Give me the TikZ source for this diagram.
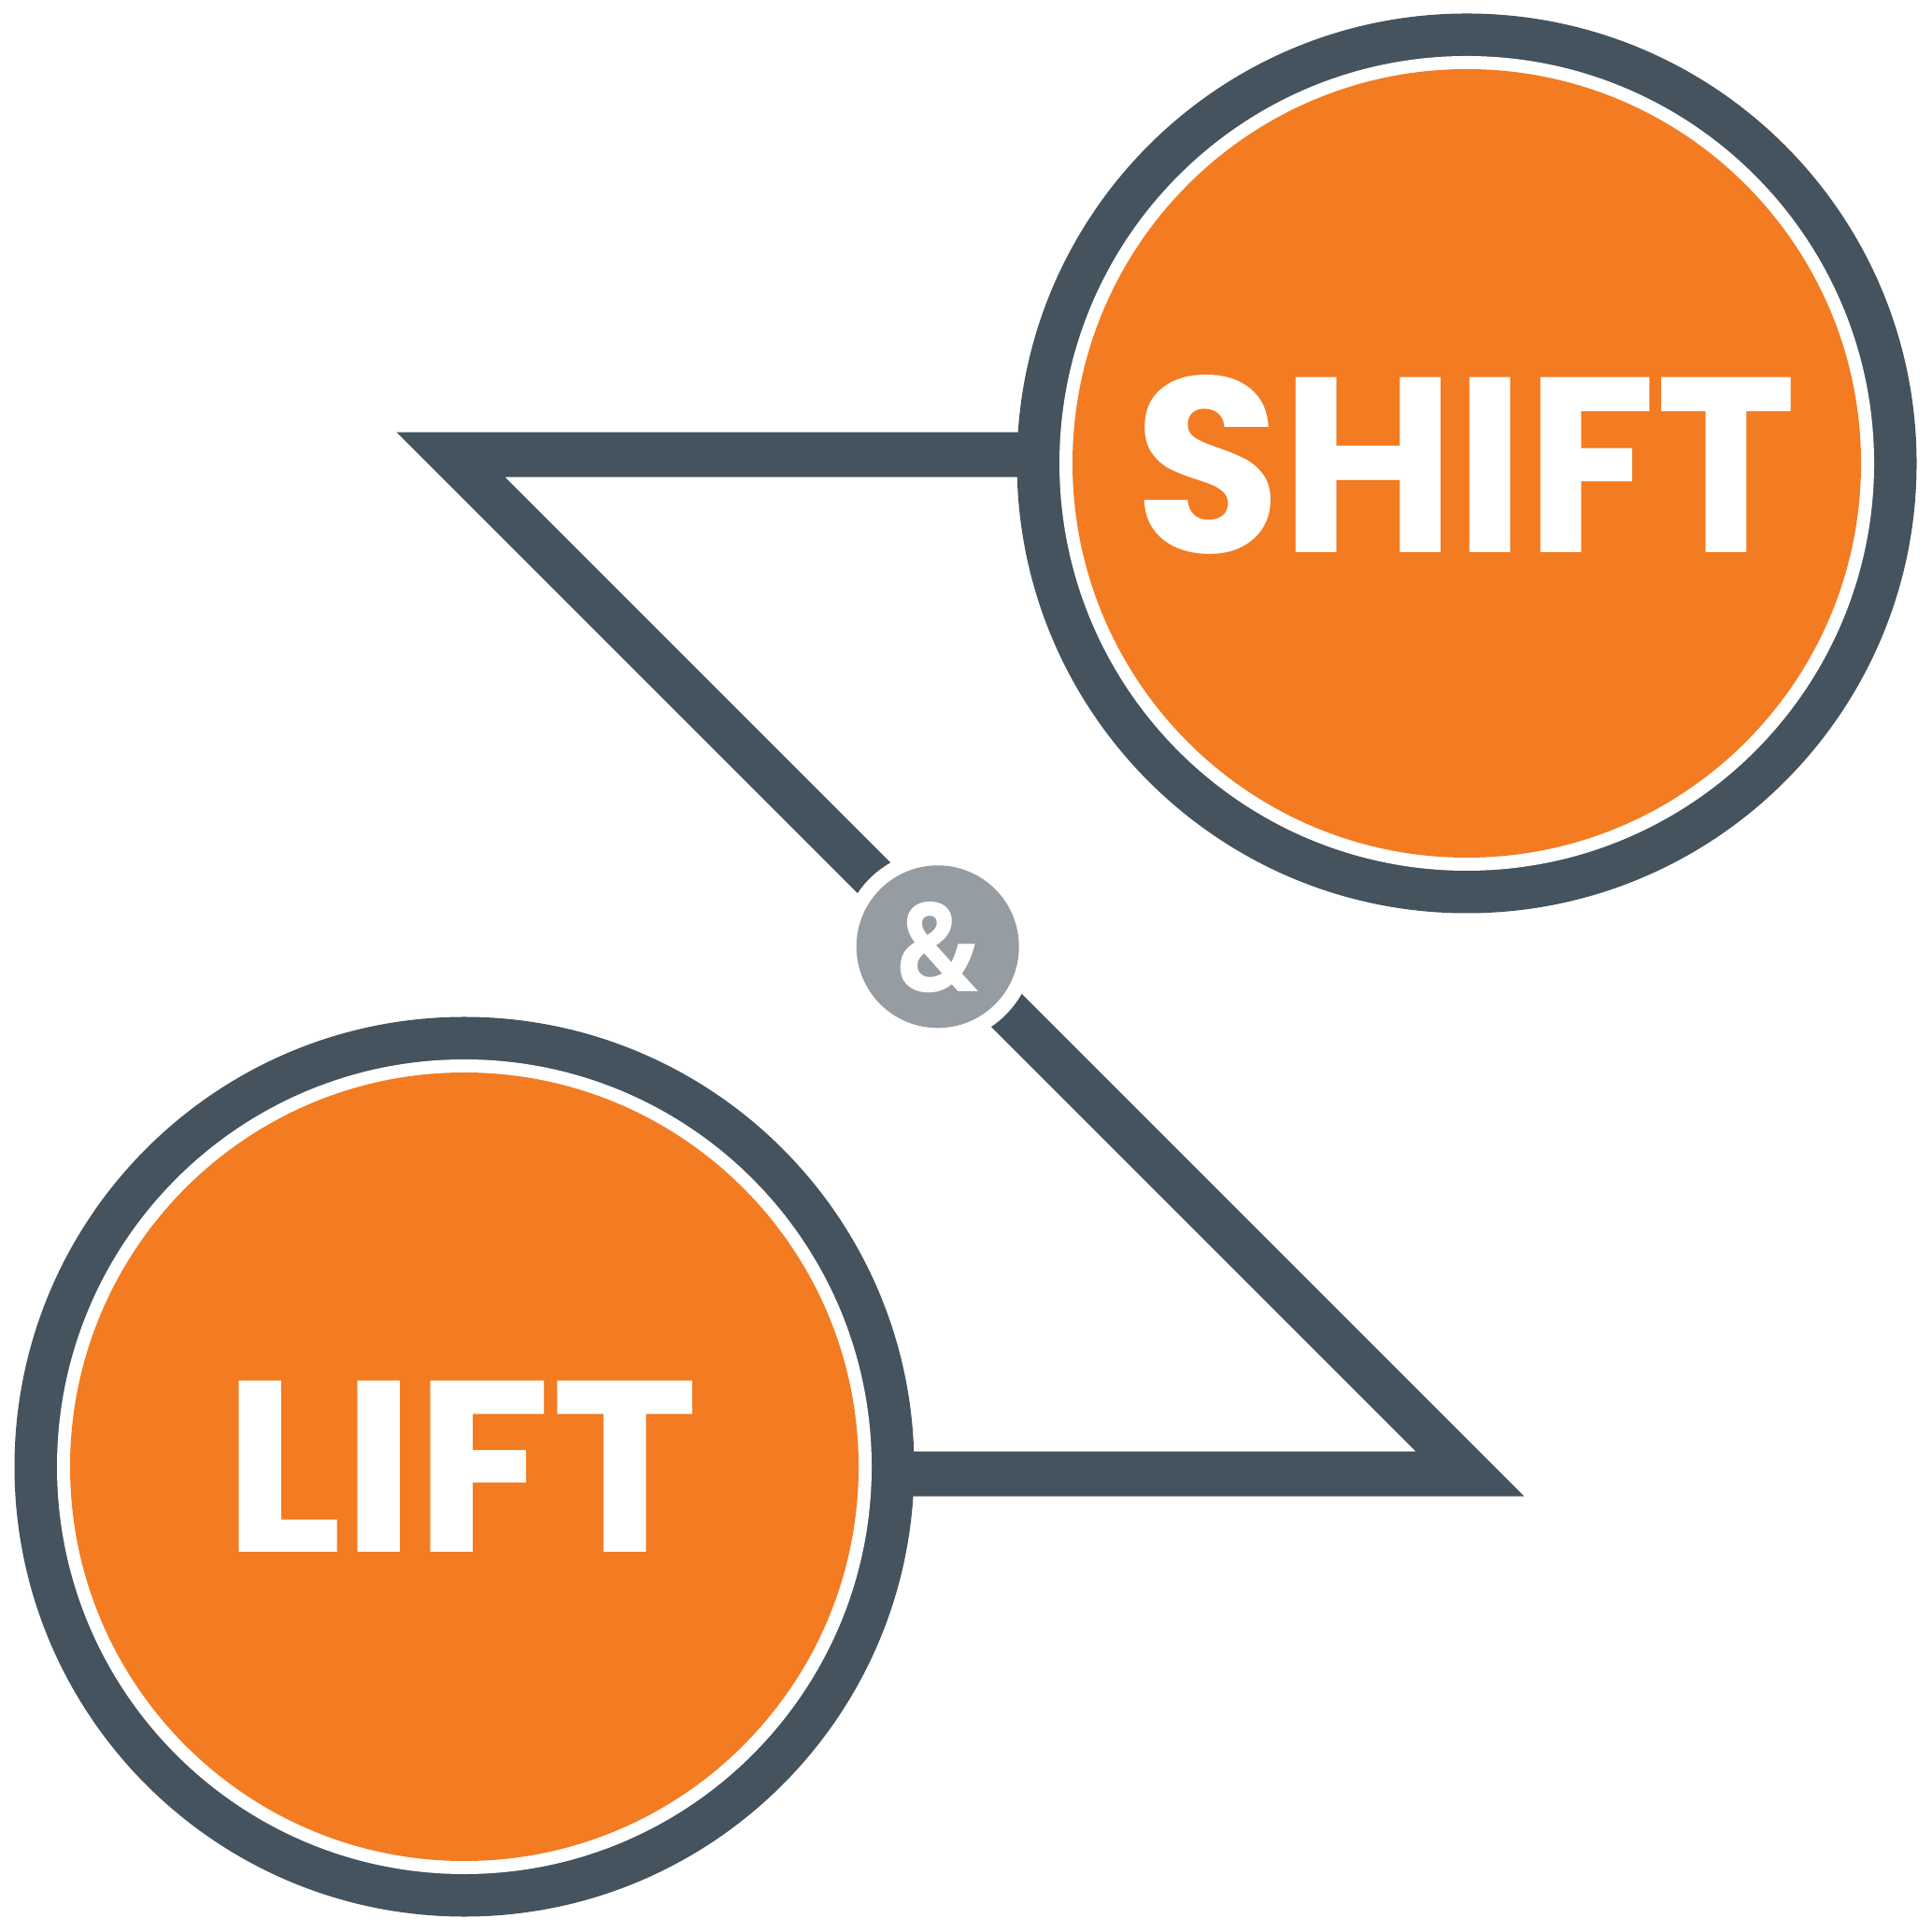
\documentclass[tikz,border=0pt]{standalone}
\usepackage{fontspec}
\setmainfont{Poppins}
\newfontfamily\ampfont{Open Sans}
\usepackage{graphicx}
\definecolor{slate}{HTML}{44535E}
\definecolor{flame}{HTML}{F37B21}
\definecolor{ash}{HTML}{959CA2}
\begin{document}
\begin{tikzpicture}
                \useasboundingbox (0,0) rectangle (20.680000,20.670000);
                {\bfseries
                
                % Marking end points and bends of line z
                \coordinate (zs) at (15.700000,15.803000);
                \coordinate (zb1) at (4.825000,15.803000);
                \coordinate (zb2) at (15.733000,4.895000);
                \coordinate (zl) at (4.970000,4.895000);
                
                % Drawing line z
                \draw [slate, line width=0.480cm, line join=miter] (zs) -- (zb1) -- (zb2) -- (zl);%
                
                % Drawing circle shift
                \fill [slate] (15.700000,15.710000) circle (4.815000);%
                \fill [white] (15.700000,15.710000) circle (4.360000);%
                \fill [flame] (15.700000,15.710000) circle (4.220000);%
                
                % Drawing circle lift
                \fill [slate] (4.970000,4.970000) circle (4.815000);%
                \fill [white] (4.970000,4.970000) circle (4.360000);%
                \fill [flame] (4.970000,4.970000) circle (4.220000);%
                
                % Drawing circle and
                \fill [white] (10.037000,10.537000) circle (1.030000);%
                \fill [ash] (10.037000,10.537000) circle (0.870000);%
                
                % Marking word SHIFT
                \node [white, inner sep=0pt] (shift) at (15.690000,15.695000) {\resizebox{7.090000cm}{1.900000cm}{SHIFT}};%
                
                % Marking word LIFT
                \node [white, inner sep=0pt] (lift) at (4.935000,4.975000) {\resizebox{5.085000cm}{1.833000cm}{LIFT}};%
                
                % Marking sign &
                \node [white, inner sep=0pt] (and) at (10.037000,10.532000) {\resizebox{0.880000cm}{0.960000cm}{\ampfont\bfseries\&}};%
                }
\end{tikzpicture}
\end{document}
